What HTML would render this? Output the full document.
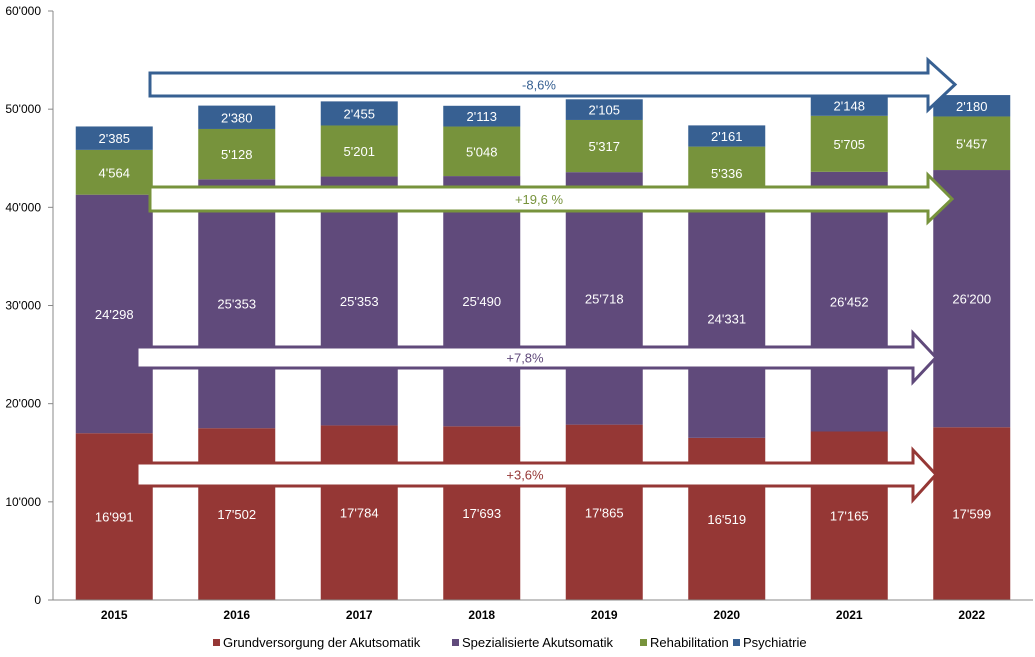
<!DOCTYPE html>
<html><head><meta charset="utf-8"><style>
body{margin:0;background:#fff;width:1035px;height:652px;overflow:hidden}
svg text{font-family:"Liberation Sans",Arial,sans-serif}
</style></head><body>
<svg id="chart" width="1035" height="652">
<g id="bars"></g><g id="axis"></g><g id="arrows"></g><g id="labels"></g><g id="legend"></g>
</svg>
<script>
const years=["2015","2016","2017","2018","2019","2020","2021","2022"];
const grund=[16991,17502,17784,17693,17865,16519,17165,17599];
const spez=[24298,25353,25353,25490,25718,24331,26452,26200];
const reha=[4564,5128,5201,5048,5317,5336,5705,5457];
const psych=[2385,2380,2455,2113,2105,2161,2148,2180];
const yTicks=[0,10000,20000,30000,40000,50000,60000];
const seriesNames=["Grundversorgung der Akutsomatik","Spezialisierte Akutsomatik","Rehabilitation","Psychiatrie"];
const colors=["#953735","#604a7b","#77933c","#376092"];
const ns="http://www.w3.org/2000/svg";
const X0=53,X1=1033,Y0=600,Y1=11,YMAX=60000;
const y=v=>Y0-(v/YMAX)*(Y0-Y1);
const band=(X1-X0)/years.length;
const xc=i=>X0+band*(i+0.5);
const BW=77;
function mk(t,a,p){const e=document.createElementNS(ns,t);for(const k in a)e.setAttribute(k,a[k]);(p||document.getElementById('chart')).appendChild(e);return e;}
const fmt=v=>{const s=String(v);return s.length>3?s.slice(0,-3)+"'"+s.slice(-3):s;};
const series=[grund,spez,reha,psych];
const gB=document.getElementById('bars'),gL=document.getElementById('labels'),gA=document.getElementById('axis');
years.forEach((yr,i)=>{
  let base=0;
  series.forEach((s,k)=>{
    const v=s[i];
    const r=mk('rect',{x:xc(i)-BW/2,y:y(base+v),width:BW,height:y(base)-y(base+v),fill:colors[k]},gB);
    
    
    const t=mk('text',{x:xc(i),y:y(base+v/2)+5,'text-anchor':'middle','font-size':13,fill:'#fff'},gL);
    t.textContent=fmt(v);
    
    
    base+=v;
  });
  const xl=mk('text',{x:xc(i),y:619,'text-anchor':'middle','font-size':12,'font-weight':'bold',fill:'#000'},gA);
  xl.textContent=yr;
  
  
});
mk('line',{x1:X0,y1:Y1,x2:X0,y2:Y0,stroke:'#888'},gA);
mk('line',{x1:X0,y1:Y0,x2:X1,y2:Y0,stroke:'#888'},gA);
yTicks.forEach(v=>{
  mk('line',{x1:X0-5,y1:y(v),x2:X0,y2:y(v),stroke:'#888'},gA);
  const t=mk('text',{x:X0-12,y:y(v)+4,'text-anchor':'end','font-size':12,fill:'#000'},gA);
  t.textContent=fmt(v);
  
  
});
const arrows=[
 {x0:150,y0:73,y1:96,hx:928,tip:955,hy0:60,hy1:110,c:'#376092',label:'-8,6%',name:'psychiatrie-arrow'},
 {x0:150,y0:187,y1:211,hx:928,tip:952,hy0:175,hy1:222,c:'#77933c',label:'+19,6 %',name:'reha-arrow'},
 {x0:137,y0:347,y1:368,hx:913,tip:936,hy0:333,hy1:382,c:'#604a7b',label:'+7,8%',name:'spez-arrow'},
 {x0:137,y0:463,y1:486,hx:913,tip:936,hy0:450,hy1:500,c:'#953735',label:'+3,6%',name:'grund-arrow'}];
const gAr=document.getElementById('arrows');
arrows.forEach(a=>{
  const m=(a.y0+a.y1)/2;
  const p=mk('polygon',{points:`${a.x0},${a.y0} ${a.hx},${a.y0} ${a.hx},${a.hy0} ${a.tip},${m} ${a.hx},${a.hy1} ${a.hx},${a.y1} ${a.x0},${a.y1}`,fill:'#fff',stroke:a.c,'stroke-width':3},gAr);
  
  
  const t=mk('text',{x:(a.x0+a.hx)/2,y:m+5,'text-anchor':'middle','font-size':13,fill:a.c},gAr);
  t.textContent=a.label;
  
  
});
const gLe=document.getElementById('legend');
const lx=[213,452,640,733];
seriesNames.forEach((n,k)=>{
  const r=mk('rect',{x:lx[k],y:639,width:7,height:7,fill:colors[k]},gLe);
  
  
  const t=mk('text',{x:lx[k]+10,y:647,'font-size':13,fill:'#000'},gLe);
  t.textContent=n;
  
  
});
</script>
</body></html>
